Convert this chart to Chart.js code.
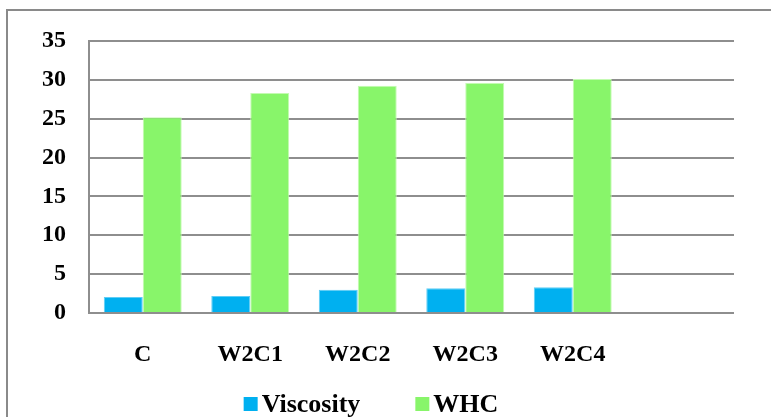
<!DOCTYPE html>
<html lang="en">
<head>
    <meta charset="UTF-8">
    <title>Viscosity and WHC</title>
    <script src="https://cdn.jsdelivr.net/npm/chart.js"></script>
    <style>
        body {
            margin: 0;
            background: #fff;
            overflow: hidden;
        }
        #frame {
            position: absolute;
            left: 6px;
            top: 9px;
            width: 800px;
            height: 500px;
            border: 2px solid #8a8a8a;
        }
        #chart-container {
            position: absolute;
            left: 0;
            top: 0;
            width: 771px;
            height: 417px;
        }
    </style>
</head>
<body>
    <div id="frame"></div>
    <div id="chart-container">
        <canvas id="barChart" width="771" height="417"></canvas>
    </div>
    <script>
        const categories = ['C', 'W2C1', 'W2C2', 'W2C3', 'W2C4', ''];
        const viscosity = [2.05, 2.2, 3.0, 3.2, 3.3, null];
        const whc = [25.2, 28.3, 29.25, 29.6, 30.1, null];
        const yTicks = [0, 5, 10, 15, 20, 25, 30, 35];

        const serif = "'Liberation Serif', 'Times New Roman', serif";
        const gridGray = '#8e8e8e';

        // legend drawn below the axis, squares close to their text
        const bottomLegend = {
            id: 'bottomLegend',
            afterDraw(chart) {
                const ctx = chart.ctx;
                const box = 14, gap = 4, spacing = 55, center = 371, baseline = 412;
                ctx.save();
                ctx.font = 'bold 26px ' + serif;
                const items = chart.data.datasets.map(ds => ({
                    text: ds.label,
                    color: ds.backgroundColor,
                    w: ctx.measureText(ds.label).width
                }));
                let total = 0;
                items.forEach((it, i) => {
                    total += box + gap + it.w + (i > 0 ? spacing : 0);
                });
                let x = center - total / 2;
                ctx.textBaseline = 'alphabetic';
                items.forEach(it => {
                    ctx.fillStyle = it.color;
                    ctx.fillRect(x, baseline - 15, box, box);
                    ctx.fillStyle = '#000';
                    ctx.fillText(it.text, x + box + gap, baseline);
                    x += box + gap + it.w + spacing;
                });
                ctx.restore();
            }
        };

        const ctx = document.getElementById('barChart').getContext('2d');
        const chart = new Chart(ctx, {
            type: 'bar',
            data: {
                labels: categories,
                datasets: [{
                    label: 'Viscosity',
                    data: viscosity,
                    backgroundColor: '#00b0f0',
                    borderColor: '#5fcdf5',
                    borderWidth: 1
                }, {
                    label: 'WHC',
                    data: whc,
                    backgroundColor: '#88f56a',
                    borderColor: '#c4fab2',
                    borderWidth: 1
                }]
            },
            options: {
                responsive: false,
                maintainAspectRatio: false,
                animation: false,
                devicePixelRatio: 1,
                layout: {
                    padding: { top: 41, right: 37, left: 0, bottom: 0 }
                },
                datasets: {
                    bar: {
                        categoryPercentage: 0.725,
                        barPercentage: 1
                    }
                },
                plugins: {
                    legend: { display: false },
                    tooltip: { enabled: false }
                },
                scales: {
                    x: {
                        grid: { display: false },
                        border: { display: false },
                        ticks: {
                            color: '#000',
                            padding: 19,
                            font: { family: serif, size: 24, weight: 'bold' }
                        },
                        afterFit: s => { s.height = 104; }
                    },
                    y: {
                        min: 0,
                        max: 35,
                        afterBuildTicks: s => { s.ticks = yTicks.map(v => ({ value: v })); },
                        grid: {
                            color: gridGray,
                            lineWidth: 2,
                            drawTicks: false
                        },
                        border: { display: true, color: gridGray, width: 2 },
                        ticks: {
                            color: '#000',
                            padding: 23,
                            font: { family: serif, size: 24, weight: 'bold' }
                        },
                        afterFit: s => { s.width = 89; }
                    }
                }
            },
            plugins: [bottomLegend]
        });
    </script>
</body>
</html>
